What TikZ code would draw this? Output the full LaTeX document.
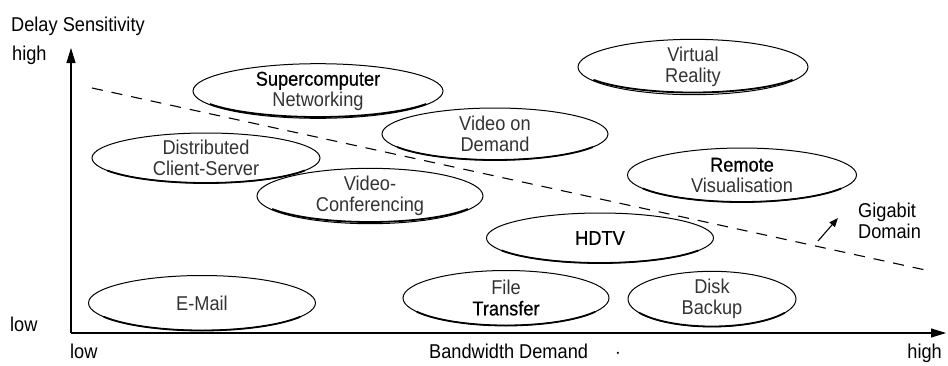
\documentclass[tikz,border=0pt]{standalone}
\usepackage{fontspec}
\setmainfont{Liberation Sans}[FakeStretch=0.91]
\newfontfamily\heavy{Liberation Sans}[FakeStretch=0.91, FakeBold=0.5]
\usetikzlibrary{shapes.geometric,arrows.meta,calc}
\tikzset{
  app/.style={ellipse, draw, line width=1pt, inner sep=0pt, align=center,
    font=\fontsize{20}{20.5}\selectfont, text=black!80},
  lbl/.style={inner sep=0pt, font=\fontsize{20}{21}\selectfont, align=left},
  axis/.style={line width=1.1pt, -{Triangle[length=15pt,width=9pt]}},
  shade/.style={line width=1.8pt},
}
\newcommand\botarc[3]{\draw[shade] ($(#1.center)+(30:#2 and #3)$) arc[start angle=30,end angle=150,x radius=#2,y radius=#3];}
\newcommand\hv[1]{{\heavy\color{black}#1}}
\begin{document}
\begin{tikzpicture}[x=1pt,y=-1pt]
\useasboundingbox (0,0) rectangle (948,365);
% axes
\coordinate (o) at (71,333);
\coordinate (ytip) at (71,48);
\coordinate (xtip) at (946,333);
\draw[axis] (o) -- (ytip);
\draw[axis] (o) -- (xtip);
% axis labels
\node[lbl, anchor=base west] (ds) at (11,31) {Delay Sensitivity};
\node[lbl, anchor=base west] (yh) at (12,60) {high};
\node[lbl, anchor=base west] (yl) at (10,331) {low};
\node[lbl, anchor=base west] (xl) at (70,358) {low};
\node[lbl, anchor=base west] (bd) at (429,358) {Bandwidth Demand};
\node[lbl, anchor=base] (dot) at (618,358) {$\cdot$};
\node[lbl, anchor=base east] (xh) at (942,358) {high};
% applications
\node[app, minimum width=250, minimum height=52] (sc) at (318,91) {\hv{Supercomputer}\\Networking};
\node[app, minimum width=230, minimum height=51] (vr) at (693,67) {Virtual\\Reality};
\node[app, minimum width=228, minimum height=50] (dcs) at (206,158) {Distributed\\Client-Server};
\node[app, minimum width=226, minimum height=52] (vod) at (495,134) {Video on\\Demand};
\node[app, minimum width=229, minimum height=54] (rv) at (742,175) {\hv{Remote}\\Visualisation};
\node[app, minimum width=226, minimum height=52] (vc) at (370,196) {Video-\\Conferencing};
\node[app, minimum width=227, minimum height=50] (hd) at (600,238) {\hv{HDTV}};
\node[app, minimum width=227, minimum height=55] (em) at (202,303) {E-Mail};
\node[app, minimum width=206, minimum height=55] (ft) at (506,298) {File\\\hv{Transfer}};
\node[app, minimum width=168, minimum height=55] (db) at (712,299) {Disk\\Backup};
% heavier lower edges
\botarc{sc}{125}{26}
\botarc{vr}{115}{25.5}
\botarc{dcs}{114}{25}
\botarc{vod}{113}{26}
\botarc{rv}{114.5}{27}
\botarc{vc}{113}{26}
\botarc{hd}{113.5}{25}
\botarc{em}{113.5}{27.5}
\botarc{ft}{103}{27.5}
\botarc{db}{84}{27.5}
% gigabit boundary
\coordinate (d1) at (92,88);
\coordinate (d2) at (930,271);
\draw[line width=1.1pt, dash pattern=on 11pt off 9pt] (d1) -- (d2);
\node[lbl, anchor=north west] (gd) at (858,203) {Gigabit\\Domain};
\coordinate (ga) at (818,241);
\coordinate (gb) at (838,218);
\draw[line width=1.1pt, -{Triangle[length=9pt,width=7pt]}] (ga) -- (gb);
\end{tikzpicture}
\end{document}
